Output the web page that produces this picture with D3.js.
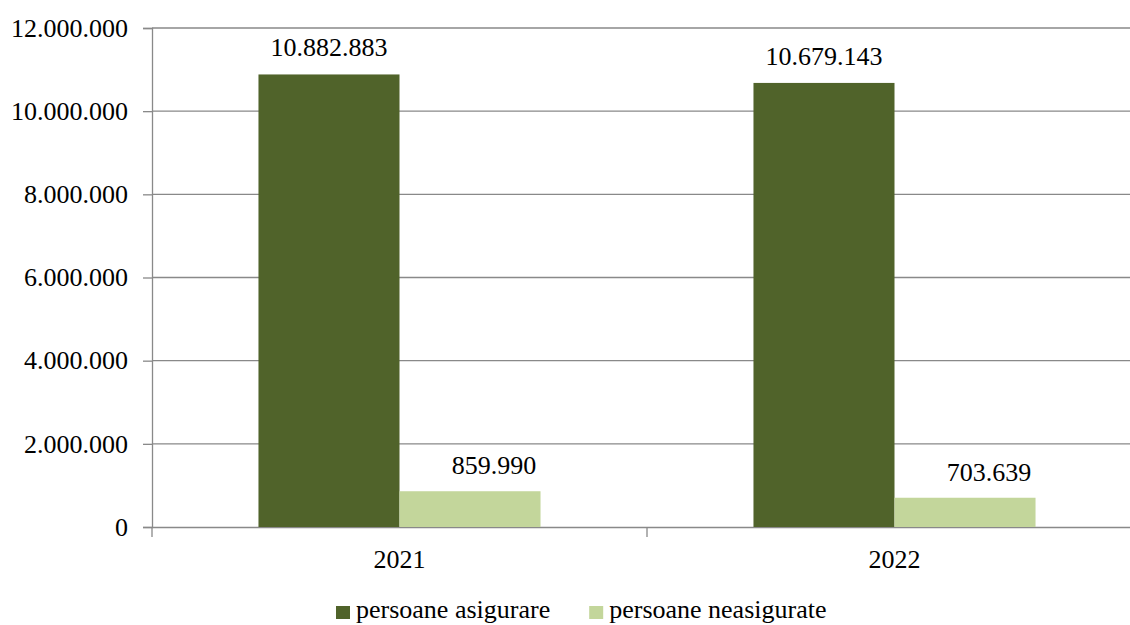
<!DOCTYPE html>
<html><head><meta charset="utf-8">
<script src="https://cdn.jsdelivr.net/npm/d3@7"></script>
<style>body{margin:0;background:#fff}svg{display:block}</style>
</head><body><svg id="c" width="1130" height="625"></svg>
<script>
const categories = ["2021", "2022"];
const seriesNames = ["persoane asigurare", "persoane neasigurate"];
const asigurate = [10882883, 10679143];
const neasigurate = [859990, 703639];
const yTicks = [0, 2000000, 4000000, 6000000, 8000000, 10000000, 12000000];
const colors = ["#50632a", "#c3d69b"];

const FONT = '"Liberation Serif"';
const fmt = v => d3.format(",")(v).replace(/,/g, ".");
const svg = d3.select("#c");
const m = {l:152, r:1142, t:28, b:527};
const fs = 26;
const labelDx = [0, 24];   // the small-bar labels sit right of the bar centre in the original
const labelGap = [18, 17];
const x = d3.scaleBand().domain(categories).range([m.l, m.r]).paddingInner(0).paddingOuter(0);
const x1 = d3.scaleBand().domain(seriesNames).range([0, x.bandwidth()]).paddingInner(0).paddingOuter(0.755);
const y = d3.scaleLinear().domain([0, 12000000]).range([m.b, m.t]);
const grid = "#898989";
const styleText = sel => sel.attr("font-family", null).style("font-family", FONT).style("font-size", fs+"px").attr("fill", "#000");

// gridlines
svg.append("g").selectAll("line").data(yTicks.slice(1)).join("line")
  .attr("x1", m.l).attr("x2", m.r).attr("y1", d=>y(d)).attr("y2", d=>y(d))
  .attr("stroke", grid).attr("stroke-width", 1.3);

// y axis
const ya = svg.append("g").attr("transform", `translate(${m.l},0)`)
  .call(d3.axisLeft(y).tickValues(yTicks).tickFormat(fmt).tickSize(9).tickPadding(15));
ya.attr("font-family", null).attr("font-size", null);
ya.select(".domain").attr("stroke", grid).attr("stroke-width", 1.3);
ya.selectAll(".tick line").attr("stroke", grid).attr("stroke-width", 1.3);
ya.selectAll("text").call(styleText).attr("dy", "0.32em");

// x axis
const xa = svg.append("g").attr("transform", `translate(0,${m.b})`)
  .call(d3.axisBottom(x).tickSize(0).tickPadding(0));
xa.attr("font-family", null).attr("font-size", null);
xa.select(".domain").attr("stroke", grid).attr("stroke-width", 1.3);
xa.selectAll("text").call(styleText).attr("dy", null).attr("y", 41);
const bounds = [m.l].concat(categories.map(c => x(c) + x.bandwidth()));
svg.append("g").selectAll("line").data(bounds).join("line")
  .attr("x1", d=>d).attr("x2", d=>d).attr("y1", m.b).attr("y2", m.b+10)
  .attr("stroke", grid).attr("stroke-width", 1.3);

// bars
const rows = categories.map((c,i) => ({c, vals:[asigurate[i], neasigurate[i]]}));
const g = svg.append("g").selectAll("g").data(rows).join("g").attr("transform", d=>`translate(${x(d.c)},0)`);
g.selectAll("rect").data(d => d.vals.map((v,j)=>({v, s:seriesNames[j], j}))).join("rect")
  .attr("x", d=>x1(d.s)).attr("width", x1.bandwidth())
  .attr("y", d=>y(d.v)).attr("height", d=>y(0)-y(d.v)).attr("fill", d=>colors[d.j]);
g.selectAll("text.lbl").data(d => d.vals.map((v,j)=>({v, s:seriesNames[j], j}))).join("text")
  .attr("class","lbl").attr("x", d=>x1(d.s)+x1.bandwidth()/2+labelDx[d.j]).attr("y", d=>y(d.v)-labelGap[d.j])
  .attr("text-anchor","middle").call(styleText).text(d=>fmt(d.v));

// legend
const leg = svg.append("g").attr("transform", "translate(336,618)");
let lx = 0;
seriesNames.forEach((n,i) => {
  const it = leg.append("g").attr("transform", `translate(${lx},0)`);
  it.append("rect").attr("x",0).attr("y",-12).attr("width",14).attr("height",13).attr("fill",colors[i]);
  const t = it.append("text").attr("x",20).attr("y",0).call(styleText).text(n);
  lx += 20 + t.node().getComputedTextLength() + 39;
});
</script></body></html>
